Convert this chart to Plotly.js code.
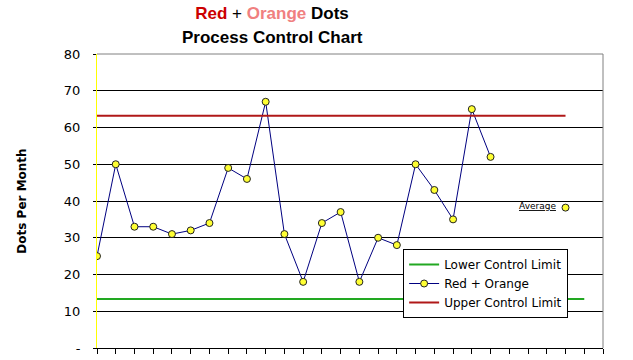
<!DOCTYPE html>
<html>
<head>
<meta charset="utf-8">
<script src="https://cdn.plot.ly/plotly-3.0.1.min.js"></script>
<style>html,body{margin:0;padding:0;background:#fff;}#chart{width:633px;height:360px;}</style>
</head>
<body>
<div id="chart"></div>
<script>
// Data
const monthIndex = [0,1,2,3,4,5,6,7,8,9,10,11,12,13,14,15,16,17,18,19,20,21];
const dotsPerMonth = [25,50,33,33,31,32,34,49,46,67,31,18,34,37,18,30,28,50,43,35,65,52];
const averageX = [25];
const averageY = [38.2];
const lclX = [0, 26];
const lclY = [13.3, 13.3];
const uclX = [0, 25];
const uclY = [63.2, 63.2];
const yTickVals = [0,10,20,30,40,50,60,70,80];
const yTickText = ["-","10","20","30","40","50","60","70","80"];
const xTickVals = [];
for (let i = 0; i <= 27; i++) xTickVals.push(i);
const xTickText = xTickVals.map(() => "");

const font = "DejaVu Sans, Verdana, sans-serif";
const titleFont = "Liberation Sans, Arial, sans-serif";

const traces = [
  {x: lclX, y: lclY, mode: "lines", name: "Lower Control Limit",
   line: {color: "#22a822", width: 2}},
  {x: monthIndex, y: dotsPerMonth, mode: "lines+markers", name: "Red + Orange",
   line: {color: "#000080", width: 1},
   marker: {color: "#ffff33", size: 7, line: {color: "#222222", width: 1}}},
  {x: uclX, y: uclY, mode: "lines", name: "Upper Control Limit",
   line: {color: "#b01818", width: 2}},
  {x: averageX, y: averageY, mode: "markers", name: "Average", showlegend: false,
   marker: {color: "#ffff33", size: 7, line: {color: "#222222", width: 1}}}
];

const layout = {
  width: 633, height: 360,
  margin: {l: 97, r: 30, t: 54, b: 12, pad: 0},
  paper_bgcolor: "#fff", plot_bgcolor: "#fff",
  font: {family: font, size: 12, color: "#000"},
  showlegend: true,
  title: {
    text: "<b><span style='color:#cc0000'>Red</span></b> + <b><span style='color:#f08080'>Orange</span> Dots</b>",
    font: {family: titleFont, size: 17, color: "#000"},
    x: 272 / 633, xanchor: "center", xref: "container",
    y: 1 - 13/360, yanchor: "middle", yref: "container"
  },
  xaxis: {
    range: [0, 27], tickvals: xTickVals, ticktext: xTickText,
    ticks: "outside", ticklen: 5, tickcolor: "#000", tickwidth: 1,
    showline: true, linecolor: "#000", linewidth: 1,
    showgrid: false, zeroline: false, fixedrange: true
  },
  yaxis: {
    range: [0, 80], tickvals: yTickVals, ticktext: yTickText,
    ticks: "outside", ticklen: 3, tickcolor: "#000",
    ticklabelstandoff: 10,
    showline: true, linecolor: "#ffff00", linewidth: 1,
    showgrid: true, gridcolor: "#000", gridwidth: 1,
    zeroline: false,
    tickfont: {family: font, size: 13, color: "#000"},
    title: {text: "<b>Dots Per Month</b>", font: {family: font, size: 12, color: "#000"}, standoff: 34}
  },
  legend: {
    x: 0.605, y: (348 - 249) / 294, xanchor: "left", yanchor: "top",
    bgcolor: "#fff", bordercolor: "#000", borderwidth: 1,
    font: {family: font, size: 12, color: "#000"},
    tracegroupgap: 0, itemwidth: 30
  },
  annotations: [
    {x: (272 - 97) / 506, y: (348 - 37) / 294, xref: "paper", yref: "paper", text: "<b>Process Control Chart</b>",
     showarrow: false, xanchor: "center", yanchor: "middle",
     font: {family: titleFont, size: 17, color: "#000"}},
    {x: averageX[0], y: averageY[0], xref: "x", yref: "y", text: "<u>Average</u>",
     showarrow: false, xanchor: "right", yanchor: "middle", xshift: -8, yshift: 2,
     font: {family: font, size: 9, color: "#000"}}
  ],
  shapes: [
    {type: "line", xref: "paper", yref: "paper", x0: 0, x1: 1, y0: 1, y1: 1, line: {color: "#808080", width: 1}},
    {type: "line", xref: "paper", yref: "paper", x0: 1, x1: 1, y0: 0, y1: 1, line: {color: "#808080", width: 1}}
  ]
};

Plotly.newPlot("chart", traces, layout, {displayModeBar: false, staticPlot: true});
</script>
</body>
</html>
